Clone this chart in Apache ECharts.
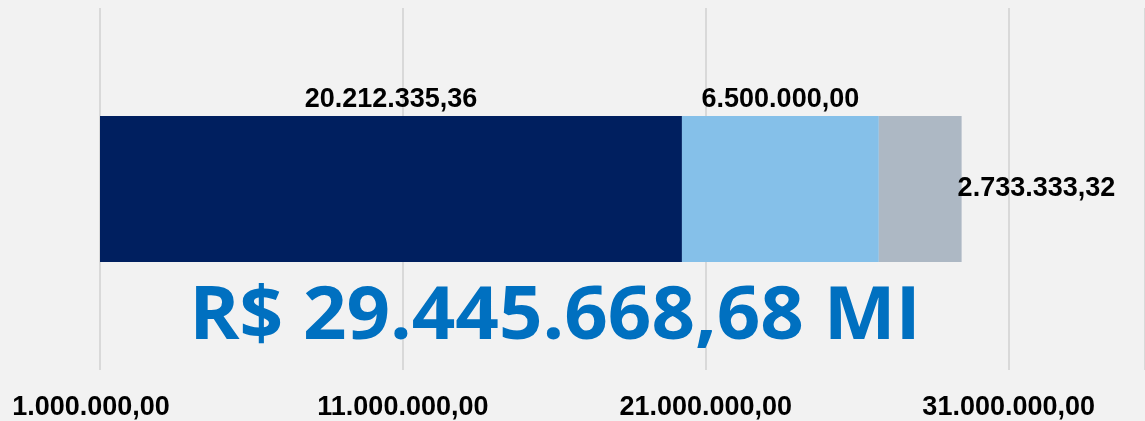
<!DOCTYPE html>
<html><head><meta charset="utf-8">
<script src="https://cdn.jsdelivr.net/npm/echarts@6/dist/echarts.min.js"></script>
<style>html,body{margin:0;padding:0;background:#F2F2F2;}#c{width:1145px;height:421px;}</style>
</head><body><div id="c"></div>
<script>
const categories = ['Total'];
const seriesNames = ['Realizado', 'Previsto', 'Restante'];
const valuesA = [20212335.36];
const valuesB = [6500000.00];
const valuesC = [2733333.32];
const totalText = 'R$ 29.445.668,68 MI';
const axisMin = 1000000, axisMax = 35500000, axisStep = 10000000;

function fmt(v) {
  const neg = v < 0; v = Math.abs(v);
  const s = v.toFixed(2);
  let [i, d] = s.split('.');
  i = i.replace(/\B(?=(\d{3})+(?!\d))/g, '.');
  return (neg ? '-' : '') + i + ',' + d;
}
const lblFont = { fontFamily: 'Liberation Sans', fontWeight: 'bold', fontSize: 27, color: '#000' };
const chart = echarts.init(document.getElementById('c'));
chart.setOption({
  backgroundColor: '#F2F2F2',
  animation: false,
  grid: { left: 100, right: 0, top: 8, bottom: 51, containLabel: false },
  xAxis: {
    type: 'value', min: axisMin, max: axisMax, interval: axisStep,
    axisLine: { show: false }, axisTick: { show: false },
    splitLine: { show: true, lineStyle: { color: '#D9D9D9', width: 2 } },
    axisLabel: Object.assign({}, lblFont, {
      margin: 24,
      showMaxLabel: false,
      formatter: function (v) { return v === axisMin ? '{m|' + fmt(v) + '}' : fmt(v); },
      rich: { m: Object.assign({}, lblFont, { padding: [0, 18, 0, 0] }) }
    })
  },
  yAxis: { type: 'category', data: categories, show: false },
  series: [
    { name: seriesNames[0], type: 'bar', stack: 't', data: valuesA, barWidth: 146,
      itemStyle: { color: '#001F5F' },
      label: Object.assign({ show: true, position: 'top', distance: 3, formatter: p => fmt(p.value) }, lblFont) },
    { name: seriesNames[1], type: 'bar', stack: 't', data: valuesB,
      itemStyle: { color: '#85C0E9' },
      label: Object.assign({ show: true, position: 'top', distance: 3, formatter: p => fmt(p.value) }, lblFont) },
    { name: seriesNames[2], type: 'bar', stack: 't', data: valuesC,
      itemStyle: { color: '#ADB8C4' },
      label: Object.assign({ show: true, position: 'right', distance: -4, formatter: p => fmt(p.value) }, lblFont) }
  ],
  graphic: [{
    type: 'text', x: 555, y: 318, scaleX: 1.03, z: 100,
    style: { text: totalText, x: 0, y: 0, align: 'center', verticalAlign: 'middle',
      fontFamily: 'Open Sans', fontWeight: 'bold', fontSize: 74, fill: '#0070C0' }
  }]
});
</script></body></html>
